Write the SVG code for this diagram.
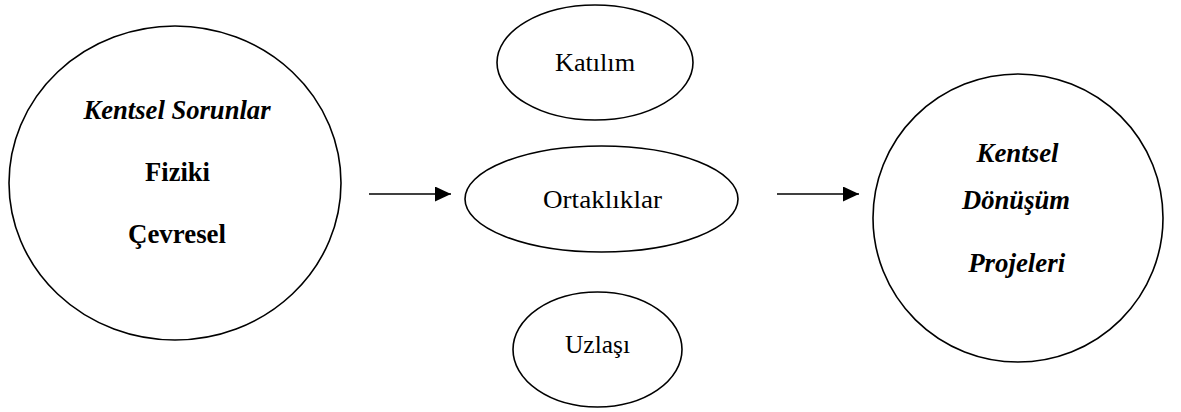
<svg xmlns="http://www.w3.org/2000/svg" width="1181" height="412" viewBox="0 0 1181 412">
<style>
.shape{fill:#fff;stroke:#000;stroke-width:1.6}
.bi{font-family:"Liberation Serif","Times New Roman",serif;font-weight:bold;font-style:italic;font-size:26.5px;fill:#000;text-anchor:middle}
.b{font-family:"Liberation Serif","Times New Roman",serif;font-weight:bold;font-size:26.5px;fill:#000;text-anchor:middle}
.r{font-family:"Liberation Serif","Times New Roman",serif;font-size:26px;fill:#000;text-anchor:middle}
.conn{stroke:#000;stroke-width:1.6;fill:none}
</style>
<defs>
<marker id="ah" viewBox="0 0 16 15" refX="16" refY="7.5" markerWidth="16" markerHeight="15" markerUnits="userSpaceOnUse" orient="auto">
<path d="M0,0 L16,7.5 L0,15 Z" fill="#000"/>
</marker>
</defs>
<rect width="1181" height="412" fill="#fff"/>
<g id="kentsel-sorunlar">
<ellipse class="shape" cx="175" cy="183" rx="166" ry="157"/>
<text class="bi" x="177" y="119" textLength="187" lengthAdjust="spacingAndGlyphs">Kentsel Sorunlar</text>
<text class="b" x="177.5" y="181" textLength="65" lengthAdjust="spacingAndGlyphs">Fiziki</text>
<text class="b" x="177" y="243" textLength="98" lengthAdjust="spacingAndGlyphs">Çevresel</text>
</g>
<g id="katilim">
<ellipse class="shape" cx="595" cy="62.5" rx="98" ry="57.5"/>
<text class="r" x="595" y="71" textLength="80" lengthAdjust="spacingAndGlyphs">Katılım</text>
</g>
<g id="ortakliklar">
<ellipse class="shape" cx="601.5" cy="199" rx="136.5" ry="53"/>
<text class="r" x="602.5" y="208" textLength="119" lengthAdjust="spacingAndGlyphs">Ortaklıklar</text>
</g>
<g id="uzlasi">
<ellipse class="shape" cx="597.5" cy="349.5" rx="84.5" ry="57.5"/>
<text class="r" x="597.5" y="353" textLength="65" lengthAdjust="spacingAndGlyphs">Uzlaşı</text>
</g>
<g id="kentsel-donusum">
<ellipse class="shape" cx="1018" cy="218" rx="145" ry="144"/>
<text class="bi" x="1017.5" y="162" textLength="82" lengthAdjust="spacingAndGlyphs">Kentsel</text>
<text class="bi" x="1016" y="209" textLength="108" lengthAdjust="spacingAndGlyphs">Dönüşüm</text>
<text class="bi" x="1016.7" y="272" textLength="97" lengthAdjust="spacingAndGlyphs">Projeleri</text>
</g>
<g id="connectors">
<line class="conn" x1="369" y1="194" x2="451" y2="194" marker-end="url(#ah)"/>
<line class="conn" x1="777" y1="194" x2="859" y2="194" marker-end="url(#ah)"/>
</g>
</svg>
